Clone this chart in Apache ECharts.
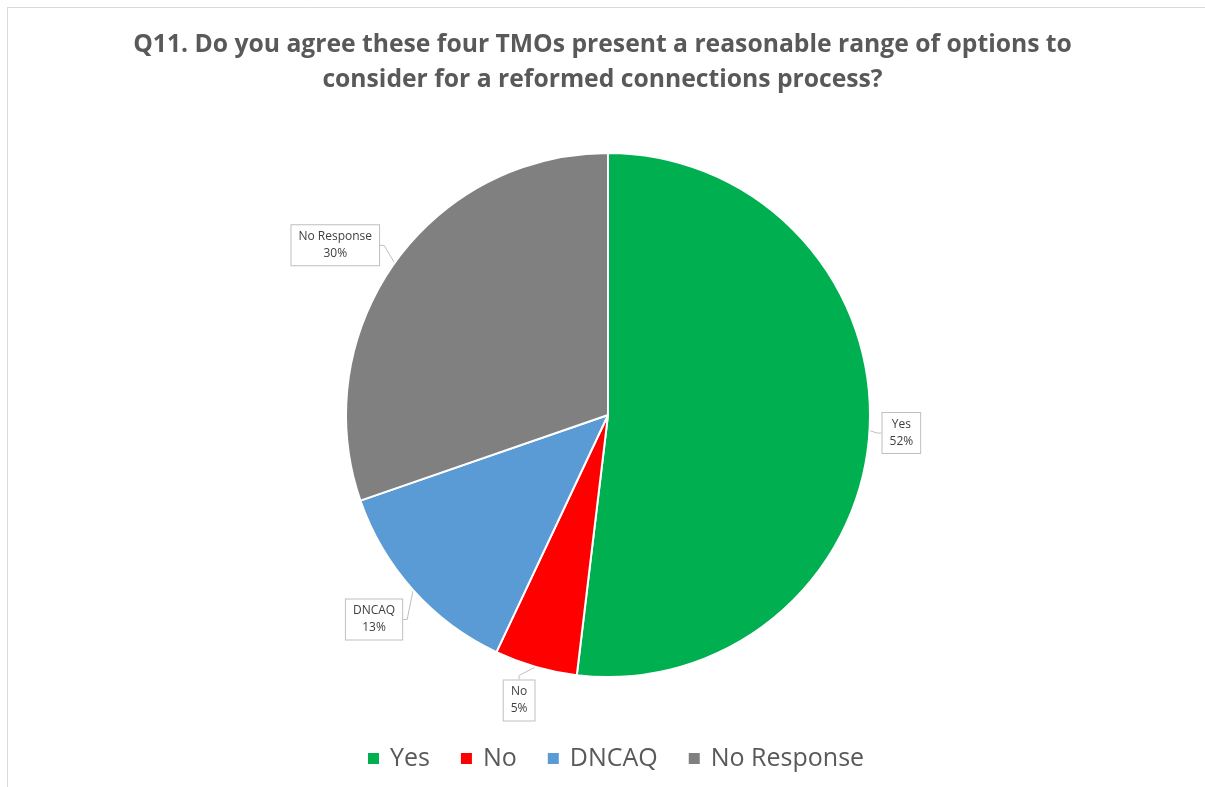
<!DOCTYPE html>
<html><head><meta charset="utf-8">
<script src="https://cdn.jsdelivr.net/npm/echarts@6/dist/echarts.min.js"></script>
<style>html,body{margin:0;padding:0;background:#fff}#c{width:1205px;height:787px}</style>
</head><body><div id="c"></div>
<script>
const titleLines = ['Q11. Do you agree these four TMOs present a reasonable range of options to', 'consider for a reformed connections process?'];
const categories = ['Yes', 'No', 'DNCAQ', 'No Response'];
const values = [51.9, 5.1, 12.7, 30.3];
const colors = ['#00B050', '#FF0000', '#5B9BD5', '#808080'];

// label nudges (px) to mimic Excel "best fit" callout placement
const labelNudge = [[-4, 2], [10, 26], [4, 24], [0, -13]];

const chart = echarts.init(document.getElementById('c'), null, {renderer: 'canvas'});
const FONT = 'Open Sans';
chart.setOption({
  backgroundColor: '#fff',
  animation: false,
  color: colors,
  title: {
    text: titleLines.join('\n'),
    left: 'center', top: 22,
    textStyle: {fontFamily: FONT, fontWeight: 'bold', fontSize: 24.7, color: '#595959', lineHeight: 35}
  },
  legend: {
    bottom: 16, left: 366,
    padding: 0,
    itemWidth: 13, itemHeight: 13, itemGap: 29,
    icon: 'rect',
    textStyle: {fontFamily: FONT, fontSize: 25, color: '#595959', padding: [0, 0, 0, 5]},
    data: categories
  },
  graphic: [
    {type: 'line', shape: {x1: 7, y1: 7.5, x2: 1205, y2: 7.5}, style: {stroke: '#d9d9d9', lineWidth: 1}},
    {type: 'line', shape: {x1: 7.5, y1: 7, x2: 7.5, y2: 787}, style: {stroke: '#d9d9d9', lineWidth: 1}}
  ],
  series: [{
    type: 'pie',
    center: [608, 415],
    radius: 262,
    startAngle: 90,
    clockwise: true,
    avoidLabelOverlap: false,
    itemStyle: {borderColor: '#fff', borderWidth: 2},
    label: {
      show: true,
      position: 'outside',
      formatter: p => p.name + '\n' + Math.round(p.value) + '%',
      fontFamily: FONT, fontSize: 12, color: '#404040', lineHeight: 17,
      backgroundColor: '#fff', borderColor: '#bfbfbf', borderWidth: 1,
      padding: [3, 7, 3, 7]
    },
    labelLine: {show: true, length: 8, length2: 4, lineStyle: {color: '#bfbfbf', width: 1}},
    labelLayout: function (p) {
      const n = labelNudge[p.dataIndex];
      return {
        x: p.labelRect.x + p.labelRect.width / 2 + n[0],
        y: p.labelRect.y + p.labelRect.height / 2 + n[1],
        align: 'center', verticalAlign: 'middle'
      };
    },
    data: categories.map((c, i) => ({name: c, value: values[i]}))
  }]
});
</script></body></html>
